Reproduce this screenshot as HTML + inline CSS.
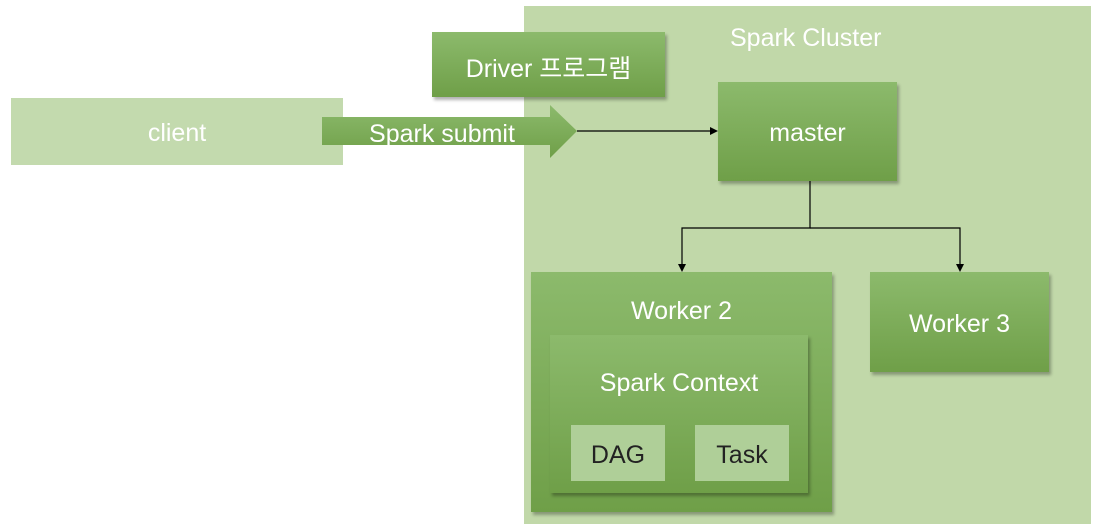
<!DOCTYPE html>
<html><head><style>
body{margin:0;width:1096px;height:530px;background:#fff;position:relative;overflow:hidden;font-family:"Liberation Sans","Noto Sans CJK KR",sans-serif;}
.a{position:absolute;box-sizing:border-box;display:flex;align-items:center;justify-content:center;color:#fff;font-size:25px;}
.g{background:linear-gradient(#8cba6c,#6f9f48);box-shadow:2px 3px 3px rgba(0,0,0,0.3);}
.l{background:#afcf98;color:#222;}
</style></head><body>
<div class="a" style="left:524px;top:6px;width:567px;height:518px;background:#c1d8a9;"></div>
<div class="a" style="left:730px;top:20px;width:170px;height:36px;justify-content:flex-start;">Spark Cluster</div>
<div class="a" style="left:11px;top:98px;width:332px;height:67px;background:#c3daae;padding-top:4px;">client</div>
<div class="a g" style="left:432px;top:32px;width:233px;height:65px;padding-top:4px;">Driver 프로그램</div>
<svg class="a" style="left:0;top:0;width:1096px;height:530px;" width="1096" height="530">
<defs><linearGradient id="gr" x1="0" y1="0" x2="0" y2="1"><stop offset="0" stop-color="#8cba6c"/><stop offset="1" stop-color="#6f9f48"/></linearGradient></defs>
<polygon points="322,117 550,117 550,105 577,131 550,158 550,145 322,145" fill="url(#gr)"/>
<line x1="577" y1="131" x2="712" y2="131" stroke="#000" stroke-width="1.2"/>
<polygon points="718,131 710,127 710,135" fill="#000"/>
<polyline points="810,181 810,228 682,228 682,266" fill="none" stroke="#000" stroke-width="1.2"/>
<polyline points="810,228 960,228 960,266" fill="none" stroke="#000" stroke-width="1.2"/>
<polygon points="682,272 678,264 686,264" fill="#000"/>
<polygon points="960,272 956,264 964,264" fill="#000"/>
</svg>
<div class="a" style="left:352px;top:118px;width:180px;height:32px;">Spark submit</div>
<div class="a g" style="left:718px;top:82px;width:179px;height:99px;padding-top:4px;">master</div>
<div class="a g" style="left:531px;top:272px;width:301px;height:240px;align-items:flex-start;padding-top:25px;">Worker 2</div>
<div class="a g" style="left:550px;top:335px;width:258px;height:158px;align-items:flex-start;padding-top:34px;">Spark Context</div>
<div class="a l" style="left:571px;top:425px;width:94px;height:56px;padding-top:4px;">DAG</div>
<div class="a l" style="left:695px;top:425px;width:94px;height:56px;padding-top:4px;">Task</div>
<div class="a g" style="left:870px;top:272px;width:179px;height:100px;padding-top:4px;">Worker 3</div>
</body></html>
